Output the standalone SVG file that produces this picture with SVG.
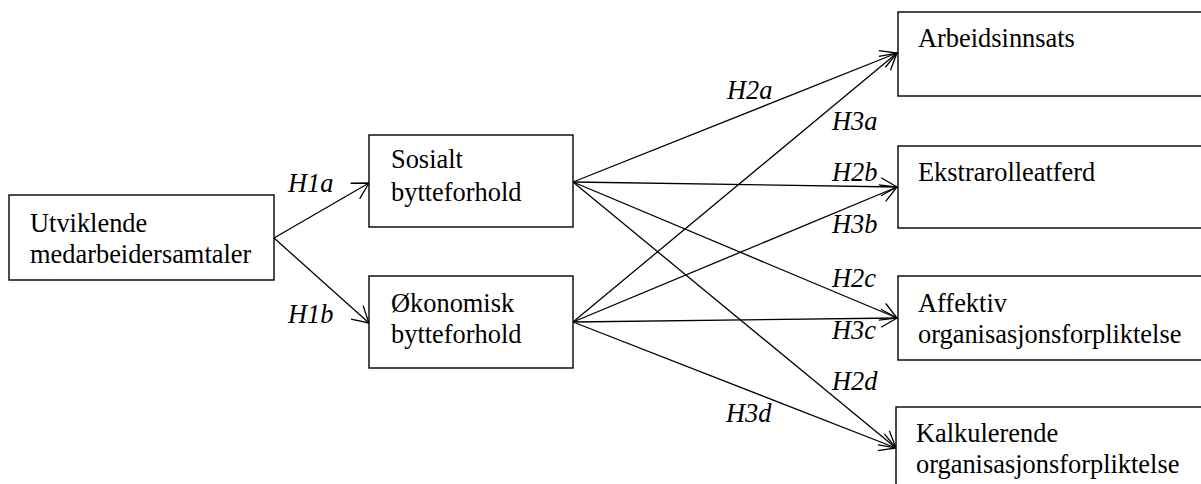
<svg xmlns="http://www.w3.org/2000/svg" width="1201" height="484" viewBox="0 0 1201 484">
  <style>
    .box { fill: #fff; stroke: #000; stroke-width: 1.4; }
    .edge { stroke: #000; stroke-width: 1.3; fill: none; marker-end: url(#arrow); }
  </style>
  <defs>
    <!-- open V arrowhead -->
    <marker id="arrow" markerUnits="userSpaceOnUse" markerWidth="24" markerHeight="24" refX="0" refY="0" viewBox="-20 -12 24 24" orient="auto" overflow="visible">
      <path d="M-16,-9 L0,0 L-16,9" fill="none" stroke="#000" stroke-width="1.3"/>
    </marker>
  </defs>
  <rect width="1201" height="484" fill="#fff"/>

  <!-- connectors -->
  <g id="connectors">
    <line class="edge" x1="274" y1="238" x2="369" y2="183"/>
    <line class="edge" x1="274" y1="238" x2="369" y2="323"/>
    <line class="edge" x1="573" y1="182" x2="897" y2="53"/>
    <line class="edge" x1="573" y1="182" x2="897" y2="187"/>
    <line class="edge" x1="573" y1="182" x2="897" y2="318"/>
    <line class="edge" x1="573" y1="182" x2="896" y2="448"/>
    <line class="edge" x1="573" y1="322" x2="897" y2="53"/>
    <line class="edge" x1="573" y1="322" x2="897" y2="187"/>
    <line class="edge" x1="573" y1="322" x2="897" y2="318"/>
    <line class="edge" x1="573" y1="322" x2="896" y2="448"/>
  </g>

  <g font-family="'Liberation Serif', 'Times New Roman', serif" font-size="26.4" fill="#000">
    <!-- hypothesis labels -->
    <g id="labels" font-style="italic">
      <text x="288" y="192">H1a</text>
      <text x="288" y="323">H1b</text>
      <text x="727" y="99">H2a</text>
      <text x="832" y="130">H3a</text>
      <text x="832" y="181">H2b</text>
      <text x="832" y="233">H3b</text>
      <text x="832" y="287">H2c</text>
      <text x="832" y="339">H3c</text>
      <text x="832" y="390">H2d</text>
      <text x="726" y="422">H3d</text>
    </g>

    <g id="utviklende">
      <rect class="box" x="9" y="195" width="265" height="85"/>
      <text x="30" y="232">Utviklende</text>
      <text x="30" y="263">medarbeidersamtaler</text>
    </g>
    <g id="sosialt">
      <rect class="box" x="369" y="135" width="204" height="92"/>
      <text x="391" y="168">Sosialt</text>
      <text x="391" y="201">bytteforhold</text>
    </g>
    <g id="okonomisk">
      <rect class="box" x="369" y="276" width="204" height="92"/>
      <text x="391" y="312">Økonomisk</text>
      <text x="391" y="343">bytteforhold</text>
    </g>
    <g id="arbeidsinnsats">
      <rect class="box" x="898" y="12" width="330" height="84"/>
      <text x="918" y="47">Arbeidsinnsats</text>
    </g>
    <g id="ekstrarolleatferd">
      <rect class="box" x="898" y="146" width="330" height="82"/>
      <text x="918" y="181">Ekstrarolleatferd</text>
    </g>
    <g id="affektiv">
      <rect class="box" x="898" y="276" width="330" height="84"/>
      <text x="918" y="312">Affektiv</text>
      <text x="918" y="343">organisasjonsforpliktelse</text>
    </g>
    <g id="kalkulerende">
      <rect class="box" x="896" y="407" width="330" height="100"/>
      <text x="916" y="442">Kalkulerende</text>
      <text x="916" y="473">organisasjonsforpliktelse</text>
    </g>
  </g>
</svg>
